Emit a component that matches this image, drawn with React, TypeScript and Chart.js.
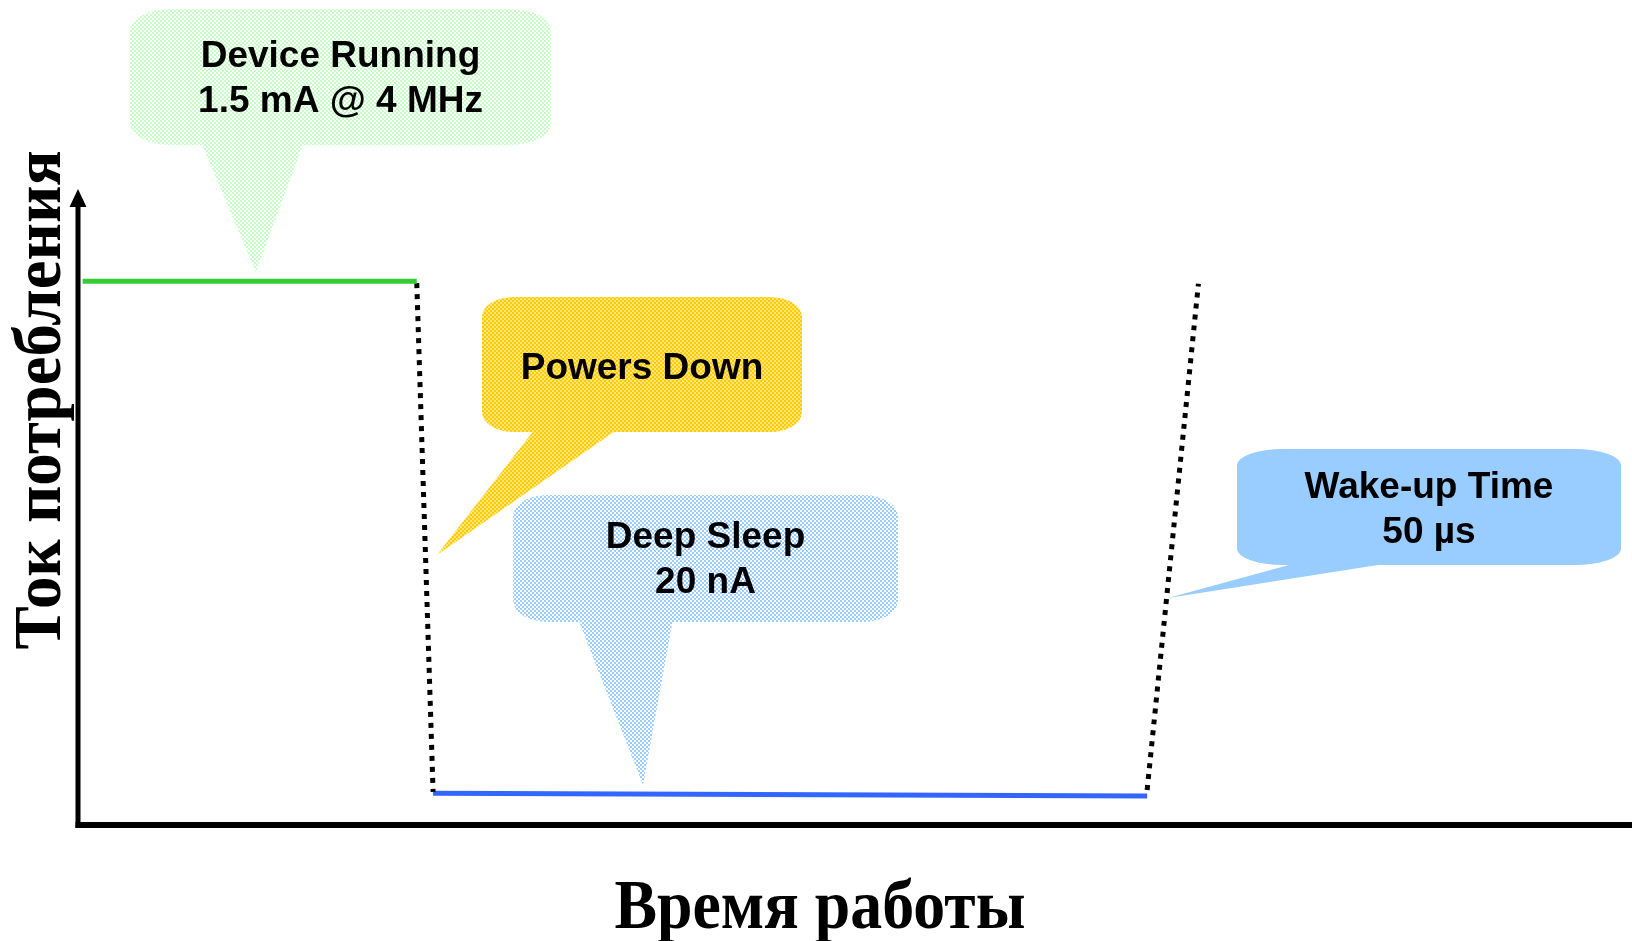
import React, { useEffect, useRef } from "react";
import { Chart, registerables } from "chart.js";

Chart.register(...registerables);

// ---- Data (x: operating time, relative units 0..100; y: supply current, relative units 0..100) ----
const runningX = [0.3, 21.8];
const runningY = [85.5, 85.5];
const powerDownX = [21.8, 22.85];
const powerDownY = [85.2, 5.2];
const sleepX = [22.85, 68.8];
const sleepY = [5.0, 4.55];
const wakeX = [68.8, 72.1];
const wakeY = [5.5, 85.1];

const xAxisTitle = "Время работы";
const yAxisTitle = "Ток потребления";

const calloutLines = [
  ["Device Running", "1.5 mA @ 4 MHz"],
  ["Powers Down"],
  ["Deep Sleep", "20 nA"],
  ["Wake-up Time", "50 µs"],
];
// callout pointer tips, in data units
const calloutTipX = [11.45, 23.1, 36.36, 70.14];
const calloutTipY = [86.9, 42.45, 6.3, 35.7];

// ---- Styles / layout (pixels) ----
const W = 1632;
const H = 941;
const CALLOUT_STYLE = [
  { box: [130, 9, 551, 145], base: [201, 304], rx: 40, ry: 22, color: "#c6ffc6", color2: "#ffffff", dither: true, baselines: [67, 112] },
  { box: [482, 297, 802, 432], base: [535, 618], rx: 32, ry: 20, color: "#ffcc00", color2: "#ffe47a", dither: true, baselines: [379] },
  { box: [513, 495, 898, 622], base: [578, 673], rx: 34, ry: 22, color: "#99ccff", color2: "#ffffff", dither: true, baselines: [548, 593] },
  { box: [1237, 449, 1621, 565], base: [1300, 1397], rx: 46, ry: 16, color: "#99ccff", color2: "#99ccff", dither: false, baselines: [498, 543] },
];

function makePattern(ctx: CanvasRenderingContext2D, color: string, color2: string) {
  const c = document.createElement("canvas");
  c.width = 4;
  c.height = 4;
  const p = c.getContext("2d")!;
  p.fillStyle = color2;
  p.fillRect(0, 0, 4, 4);
  p.fillStyle = color;
  p.fillRect(0, 0, 2, 2);
  p.fillRect(2, 2, 2, 2);
  return ctx.createPattern(c, "repeat");
}

function roundRectE(ctx: CanvasRenderingContext2D, x0: number, y0: number, x1: number, y1: number, rx: number, ry: number) {
  ctx.beginPath();
  ctx.moveTo(x0 + rx, y0);
  ctx.lineTo(x1 - rx, y0);
  ctx.ellipse(x1 - rx, y0 + ry, rx, ry, 0, -Math.PI / 2, 0);
  ctx.lineTo(x1, y1 - ry);
  ctx.ellipse(x1 - rx, y1 - ry, rx, ry, 0, 0, Math.PI / 2);
  ctx.lineTo(x0 + rx, y1);
  ctx.ellipse(x0 + rx, y1 - ry, rx, ry, 0, Math.PI / 2, Math.PI);
  ctx.lineTo(x0, y0 + ry);
  ctx.ellipse(x0 + rx, y0 + ry, rx, ry, 0, Math.PI, 1.5 * Math.PI);
  ctx.closePath();
}

function fitText(ctx: CanvasRenderingContext2D, text: string, cx: number, baseline: number, targetW: number) {
  const m = ctx.measureText(text).width;
  const sx = targetW / m;
  ctx.save();
  ctx.translate(cx, baseline);
  ctx.scale(sx, 1);
  ctx.textAlign = "center";
  ctx.textBaseline = "alphabetic";
  ctx.fillText(text, 0, 0);
  ctx.restore();
}

const decorPlugin = {
  id: "decor",
  beforeDatasetsDraw(chart: any) {
    const ctx: CanvasRenderingContext2D = chart.ctx;
    const xs = chart.scales.x;
    const ys = chart.scales.y;
    const x0 = xs.getPixelForValue(0);
    const y0 = ys.getPixelForValue(0);
    const yTop = ys.getPixelForValue(100);
    ctx.save();
    ctx.strokeStyle = "#000";
    ctx.fillStyle = "#000";
    // x axis
    ctx.lineWidth = 6;
    ctx.beginPath();
    ctx.moveTo(x0 - 2.5, y0);
    ctx.lineTo(chart.width, y0);
    ctx.stroke();
    // y axis
    ctx.lineWidth = 5;
    ctx.beginPath();
    ctx.moveTo(x0, y0 + 3);
    ctx.lineTo(x0, yTop + 16);
    ctx.stroke();
    // arrow head
    ctx.beginPath();
    ctx.moveTo(x0, yTop);
    ctx.lineTo(x0 - 8.5, yTop + 18);
    ctx.lineTo(x0 + 8.5, yTop + 18);
    ctx.closePath();
    ctx.fill();

    // axis titles
    ctx.font = "bold 68px 'Liberation Serif', 'Times New Roman', serif";
    ctx.save();
    ctx.translate(60, 400);
    ctx.rotate(-Math.PI / 2);
    fitText(ctx, yAxisTitle, 0, 0, 499);
    ctx.restore();
    ctx.font = "bold 69px 'Liberation Serif', 'Times New Roman', serif";
    fitText(ctx, xAxisTitle, 820, 928, 411);
    ctx.restore();
  },
  afterDatasetsDraw(chart: any) {
    const ctx: CanvasRenderingContext2D = chart.ctx;
    const xs = chart.scales.x;
    const ys = chart.scales.y;
    ctx.save();
    CALLOUT_STYLE.forEach((s, i) => {
      const fill: any = s.dither ? makePattern(ctx, s.color, s.color2) : s.color;
      const [bx0, by0, bx1, by1] = s.box;
      const tx = xs.getPixelForValue(calloutTipX[i]);
      const ty = ys.getPixelForValue(calloutTipY[i]);
      ctx.fillStyle = fill;
      roundRectE(ctx, bx0, by0, bx1, by1, s.rx, s.ry);
      ctx.fill();
      ctx.beginPath();
      ctx.moveTo(s.base[0], by1 - 3);
      ctx.lineTo(s.base[1], by1 - 3);
      ctx.lineTo(tx, ty);
      ctx.closePath();
      ctx.fill();
      ctx.fillStyle = "#000";
      ctx.font = "bold 37px 'Liberation Sans', Arial, sans-serif";
      ctx.textAlign = "center";
      ctx.textBaseline = "alphabetic";
      const cx = (bx0 + bx1) / 2;
      calloutLines[i].forEach((line, j) => {
        ctx.fillText(line, cx, s.baselines[j]);
      });
    });
    ctx.restore();
  },
};

const toPoints = (xs: number[], ys: number[]) => xs.map((x, i) => ({ x, y: ys[i] }));

export default function App() {
  const ref = useRef<HTMLCanvasElement | null>(null);
  useEffect(() => {
    document.body.style.margin = "0";
    document.body.style.background = "#ffffff";
    const canvas = ref.current!;
    const chart = new Chart(canvas, {
      type: "line",
      data: {
        datasets: [
          { label: "Device Running", data: toPoints(runningX, runningY), borderColor: "#33cc33", borderWidth: 5, pointRadius: 0, borderCapStyle: "butt" },
          { label: "Powers Down", data: toPoints(powerDownX, powerDownY), borderColor: "#000000", borderWidth: 5, borderDash: [5, 6], pointRadius: 0 },
          { label: "Deep Sleep", data: toPoints(sleepX, sleepY), borderColor: "#3366ff", borderWidth: 5, pointRadius: 0, borderCapStyle: "butt" },
          { label: "Wake-up", data: toPoints(wakeX, wakeY), borderColor: "#000000", borderWidth: 5, borderDash: [5, 6], pointRadius: 0 },
        ],
      },
      options: {
        animation: false,
        responsive: false,
        maintainAspectRatio: false,
        devicePixelRatio: 1,
        layout: { padding: { left: 78, top: 189, right: 0, bottom: H - 825 } },
        plugins: { legend: { display: false }, tooltip: { enabled: false } },
        events: [],
        scales: {
          x: { type: "linear", min: 0, max: 100, display: false },
          y: { type: "linear", min: 0, max: 100, display: false },
        },
      } as any,
      plugins: [decorPlugin],
    });
    return () => chart.destroy();
  }, []);
  return <canvas ref={ref} width={W} height={H} style={{ display: "block", width: W, height: H }} />;
}
